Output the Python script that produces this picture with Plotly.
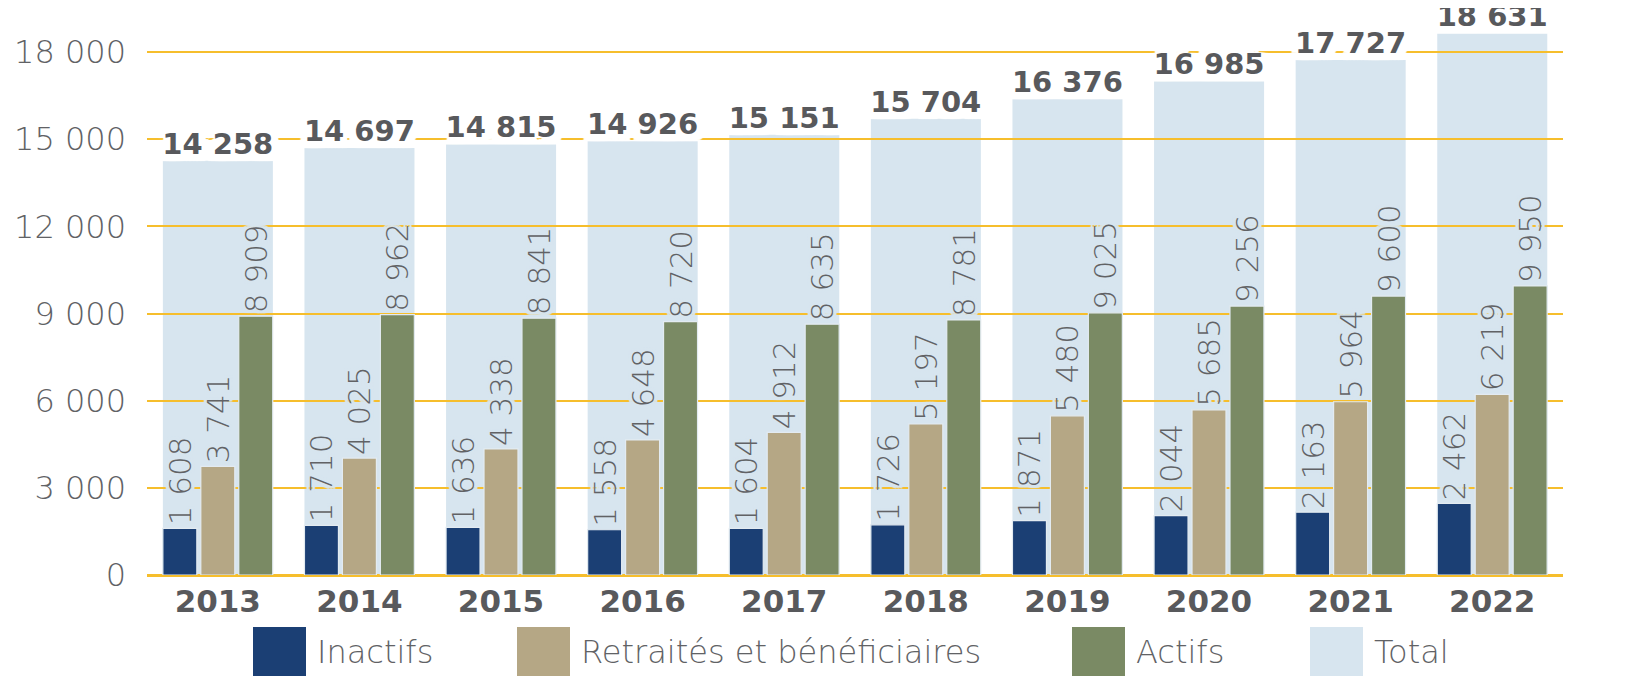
import plotly.graph_objects as go

years = ['2013', '2014', '2015', '2016', '2017', '2018', '2019', '2020', '2021', '2022']
inactifs = [1608, 1710, 1636, 1558, 1604, 1726, 1871, 2044, 2163, 2462]
retraites = [3741, 4025, 4338, 4648, 4912, 5197, 5480, 5685, 5964, 6219]
actifs = [8909, 8962, 8841, 8720, 8635, 8781, 9025, 9256, 9600, 9950]
total = [14258, 14697, 14815, 14926, 15151, 15704, 16376, 16985, 17727, 18631]
y_ticks = [0, 3000, 6000, 9000, 12000, 15000, 18000]

font_family = 'DejaVu Sans, Noto Sans, sans-serif'
grey = '#616265'
dark_grey = '#58595c'
navy = '#1b3f74'
sand = '#b5a785'
green = '#7a8a64'
light_blue = '#d7e5ef'
gold = '#f6be2c'

# the page body adds an 8px margin, so the figure is a bit smaller
W, H = 1637, 674
ML, MR, MT, MB = 139, 82, 15, 107
PW, PH = W - ML - MR, H - MT - MB


def halo(color, r=3):
    # text-shadow ring so the gridlines break around the labels
    parts = []
    for dx, dy in [(r, 0), (-r, 0), (0, r), (0, -r), (r, r), (-r, -r), (r, -r), (-r, r),
                   (r // 2, r), (-r // 2, r), (r // 2, -r), (-r // 2, -r)]:
        parts.append('{}px {}px 1px {}'.format(dx, dy, color))
    return ', '.join(parts)


fig = go.Figure()

# total bars on the first (bottom) subplot so the gridlines of the
# second subplot are drawn over them
fig.add_trace(go.Bar(
    x=years, y=total, name='Total',
    marker=dict(color=light_blue, line=dict(width=0)),
    width=0.777, offset=-0.388,
    xaxis='x', yaxis='y', hoverinfo='skip', showlegend=False
))

bar_label_font = dict(family=font_family, size=31, color=grey, weight=300,
                      shadow=halo(light_blue))

for vals, color, off in [(inactifs, navy, -0.388), (retraites, sand, -0.12), (actifs, green, 0.148)]:
    fig.add_trace(go.Bar(
        x=years, y=vals,
        marker=dict(color=color, line=dict(width=1.2, color='#e3ebf1')),
        width=0.24, offset=off,
        text=vals, texttemplate='%{y:,}', textposition='outside',
        textangle=-90, textfont=bar_label_font, constraintext='none',
        cliponaxis=False,
        xaxis='x2', yaxis='y2', hoverinfo='skip', showlegend=False
    ))

# total labels
fig.add_trace(go.Scatter(
    x=years, y=total, mode='text',
    text=total, texttemplate='%{y:,}', textposition='top center',
    textfont=dict(family=font_family, size=29, color=dark_grey, weight=700,
                  shadow=halo('white', 7)),
    cliponaxis=False,
    xaxis='x2', yaxis='y2', hoverinfo='skip', showlegend=False
))

yrange = [0, 19000]
xrange = [-0.5, 9.5]

fig.update_layout(
    width=W, height=H,
    margin=dict(l=ML, r=MR, t=MT, b=MB),
    plot_bgcolor='rgba(0,0,0,0)', paper_bgcolor='white',
    barmode='overlay',
    separators=', ',
    font=dict(family=font_family, color=grey),
    showlegend=False,
    xaxis=dict(domain=[0, 1], range=xrange, visible=False, type='category',
               automargin=False),
    yaxis=dict(domain=[0, 1], range=yrange, visible=False, automargin=False),
    xaxis2=dict(
        domain=[0, 1], anchor='y2', range=xrange, type='category',
        showgrid=False, ticks='', showline=False, automargin=False,
        tickfont=dict(family=font_family, size=31, color=dark_grey, weight=700),
        ticklabelstandoff=5
    ),
    yaxis2=dict(
        domain=[0, 1], anchor='x2', range=yrange,
        tickvals=y_ticks, tickformat=',',
        showgrid=True, gridcolor=gold, gridwidth=2,
        zeroline=True, zerolinecolor=gold, zerolinewidth=3,
        ticks='', showline=False, automargin=False,
        tickfont=dict(family=font_family, size=32, color=grey, weight=300),
        ticklabelstandoff=20
    ),
)

# legend drawn as squares and text below the axis (window pixel positions)
legend_items = [
    ('Inactifs', navy, 253),
    ('Retraités et bénéficiaires', sand, 517),
    ('Actifs', green, 1072),
    ('Total', light_blue, 1310),
]
sq_top, sq_bot = 627 - 8, 676 - 8
for label, color, px in legend_items:
    px = px - 8
    fig.add_shape(type='rect', xref='paper', yref='paper',
                  x0=(px - ML) / PW, x1=(px + 53 - ML) / PW,
                  y0=(H - MB - sq_bot) / PH, y1=(H - MB - sq_top) / PH,
                  fillcolor=color, line=dict(width=0))
    fig.add_annotation(xref='paper', yref='paper',
                       x=(px + 62 - ML) / PW, y=(H - MB - (sq_top + sq_bot) / 2) / PH,
                       xanchor='left', yanchor='middle', showarrow=False,
                       text=label,
                       font=dict(family=font_family, size=32, color=grey, weight=300))

fig.write_html('out.html')
